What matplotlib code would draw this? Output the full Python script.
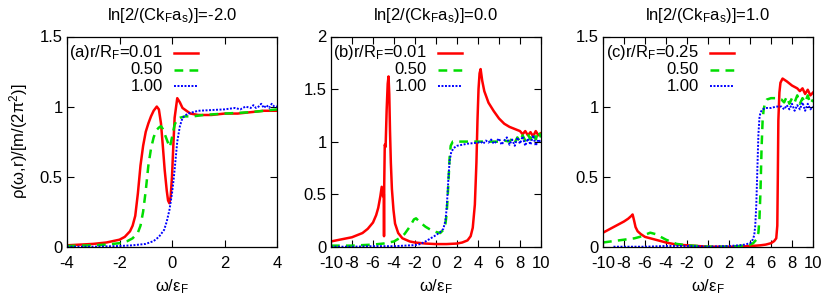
import matplotlib
matplotlib.use("Agg")
import matplotlib.pyplot as plt

plt.rcParams['font.family'] = ['Liberation Sans', 'DejaVu Sans']
plt.rcParams['mathtext.fontset'] = 'custom'
plt.rcParams['mathtext.rm'] = 'Liberation Sans'
plt.rcParams['mathtext.it'] = 'Liberation Sans:italic'
plt.rcParams['axes.unicode_minus'] = False

# ---- panel (a): ln[2/(Ck_F a_s)] = -2.0 ----
a_red_x = [-4, -3.5, -3, -2.5, -2, -1.8, -1.6, -1.5, -1.4, -1.3, -1.2, -1.1, -1.0, -0.9, -0.8,
           -0.7, -0.58, -0.5, -0.42, -0.35, -0.28, -0.2, -0.15, -0.1, -0.05, 0.0, 0.05, 0.1, 0.2,
           0.3, 0.4, 0.55, 0.7, 1.0, 1.5, 2, 2.5, 3, 3.5, 4]
a_red_y = [0.01, 0.015, 0.02, 0.03, 0.05, 0.07, 0.11, 0.15, 0.22, 0.38, 0.58, 0.72, 0.82, 0.88, 0.93,
           0.97, 1.0, 0.98, 0.88, 0.72, 0.55, 0.4, 0.33, 0.31, 0.36, 0.5, 0.72, 0.92, 1.06,
           1.03, 0.99, 0.97, 0.95, 0.94, 0.94, 0.95, 0.95, 0.96, 0.97, 0.97]
a_green_x = [-4, -3, -2.5, -2, -1.7, -1.5, -1.3, -1.2, -1.1, -1.0, -0.9, -0.8, -0.7, -0.6, -0.5,
             -0.42, -0.35, -0.25, -0.15, -0.08, 0.0, 0.1, 0.2, 0.3, 0.5, 0.8, 1.2, 2, 3, 4]
a_green_y = [0.005, 0.01, 0.015, 0.025, 0.04, 0.06, 0.1, 0.15, 0.25, 0.4, 0.58, 0.7, 0.78, 0.83, 0.85,
             0.86, 0.84, 0.79, 0.74, 0.71, 0.78, 0.87, 0.91, 0.92, 0.93, 0.93, 0.94, 0.95, 0.96, 0.98]
a_blue_x = [-4, -3, -2, -1.5, -1, -0.7, -0.5, -0.3, -0.2, -0.1, 0.0, 0.05, 0.1, 0.15, 0.2, 0.3,
            0.4, 0.6, 0.8, 1.0, 1.5, 2.0, 2.4, 2.6, 2.8, 3.0, 3.1, 3.2, 3.3, 3.4, 3.5, 3.6, 3.7,
            3.8, 3.9, 4.0]
a_blue_y = [0.0, 0.0, 0.005, 0.01, 0.02, 0.04, 0.07, 0.12, 0.18, 0.26, 0.38, 0.46, 0.55, 0.65, 0.75, 0.86,
            0.92, 0.95, 0.96, 0.97, 0.975, 0.98, 0.99, 0.98, 1.0, 0.99, 1.01, 0.99, 1.0, 1.02, 0.99, 1.01, 0.99,
            1.02, 1.0, 1.0]

# ---- panel (b): ln[2/(Ck_F a_s)] = 0.0 ----
b_red_x = [-10, -9, -8, -7, -6.5, -6, -5.7, -5.5, -5.3, -5.17, -5.05, -4.97, -4.95, -4.93, -4.88,
           -4.8, -4.7, -4.6, -4.52, -4.45, -4.38, -4.3, -4.2, -4.05, -3.9, -3.6, -3.2, -2.5, -2, -1,
           0, 1, 2, 2.5, 3, 3.3, 3.5, 3.7, 3.85, 3.95, 4.05, 4.15, 4.25, 4.4, 4.6, 5, 5.5, 6, 6.5,
           7, 7.5, 8, 8.25, 8.5, 8.75, 9, 9.25, 9.5, 9.75, 10]
b_red_y = [0.05, 0.07, 0.09, 0.13, 0.17, 0.23, 0.3, 0.37, 0.48, 0.57, 0.48, 0.5, 0.1, 0.6, 0.97,
           0.95, 1.3, 1.55, 1.62, 1.45, 1.1, 0.8, 0.55, 0.35, 0.22, 0.13, 0.08, 0.05, 0.04, 0.03,
           0.025, 0.025, 0.03, 0.04, 0.06, 0.1, 0.18, 0.4, 0.8, 1.2, 1.5, 1.65, 1.69, 1.58, 1.48, 1.37, 1.29, 1.22, 1.17,
           1.14, 1.12, 1.1, 1.07, 1.1, 1.06, 1.09, 1.05, 1.1, 1.06, 1.08]
b_green_x = [-10, -8, -6, -5, -4, -3.5, -3, -2.5, -2.1, -1.9, -1.5, -1, -0.5, 0, 0.4, 0.7, 0.9, 1.0,
             1.1, 1.2, 1.3, 1.4, 1.6, 2, 3, 4, 5, 6, 6.5, 7, 7.25, 7.5, 7.75, 8, 8.25, 8.5, 8.75,
             9, 9.25, 9.5, 9.75, 10]
b_green_y = [0.01, 0.01, 0.02, 0.03, 0.05, 0.08, 0.12, 0.19, 0.26, 0.27, 0.23, 0.19, 0.16, 0.14, 0.13, 0.16, 0.22, 0.3,
             0.45, 0.65, 0.85, 0.96, 1.0, 1.0, 1.0, 1.0, 1.0, 1.0, 1.01, 1.0, 1.03, 0.99, 1.04, 1.0, 1.06, 1.01, 1.07,
             1.02, 1.08, 1.02, 1.1, 1.04]
b_blue_x = [-10, -8, -6, -4, -3, -2, -1.5, -1, -0.5, 0, 0.4, 0.7, 0.9, 1.0, 1.1, 1.2, 1.3, 1.45,
            1.7, 2, 2.5, 3, 3.5, 4, 4.25, 4.5, 4.75, 5, 5.25, 5.5, 5.75, 6, 6.25, 6.5, 6.75, 7, 7.25,
            7.5, 7.75, 8, 8.25, 8.5, 8.75, 9, 9.25, 9.5, 9.75, 10]
b_blue_y = [0.0, 0.0, 0.005, 0.005, 0.01, 0.015, 0.025, 0.05, 0.08, 0.11, 0.14, 0.17, 0.25, 0.35, 0.5, 0.68, 0.82, 0.9,
            0.94, 0.96, 0.97, 0.98, 0.985, 0.99, 1.0, 0.98, 1.01, 0.99, 1.02, 0.98, 1.0, 1.03, 0.97, 1.01, 1.04, 0.97,
            1.02, 0.96, 1.04, 0.98, 1.05, 0.96, 1.03, 0.97, 1.06, 0.96, 1.02, 0.99]

# ---- panel (c): ln[2/(Ck_F a_s)] = 1.0 ----
c_red_x = [-10, -9.5, -9, -8.5, -8, -7.6, -7.3, -7.18, -7.05, -6.9, -6.7, -6.4, -6, -5.5, -5, -4.5,
           -4, -3, -2, -1, 0, 1, 2, 3, 4, 4.5, 5, 5.5, 6, 6.3, 6.5, 6.6, 6.65, 6.7, 6.8, 6.9, 7.1,
           7.5, 8, 8.5, 8.75, 9, 9.25, 9.5, 9.75, 10]
c_red_y = [0.1, 0.12, 0.14, 0.16, 0.18, 0.2, 0.22, 0.23, 0.19, 0.14, 0.11, 0.09, 0.07, 0.06, 0.05, 0.04,
           0.03, 0.015, 0.01, 0.005, 0.0, 0.0, 0.0, 0.0, 0.005, 0.007, 0.01, 0.015, 0.025, 0.04, 0.06, 0.15, 0.5,
           0.9, 1.1, 1.17, 1.2, 1.18, 1.15, 1.13, 1.11, 1.13, 1.09, 1.12, 1.08, 1.1]
c_green_x = [-10, -9, -8, -7, -6.5, -6, -5.5, -5, -4.5, -4, -3.5, -3, -2, -1, 0, 1, 2, 3, 3.5, 4,
             4.3, 4.6, 4.8, 4.9, 5.0, 5.1, 5.2, 5.3, 5.45, 5.6, 6.0, 6.5, 7, 7.25, 7.5, 7.75, 8,
             8.25, 8.5, 8.75, 9, 9.25, 9.5, 9.75, 10]
c_green_y = [0.03, 0.04, 0.05, 0.06, 0.07, 0.085, 0.1, 0.09, 0.07, 0.05, 0.035, 0.02, 0.01, 0.005, 0.0, 0.0, 0.0,
             0.005, 0.01, 0.015, 0.025, 0.05, 0.1, 0.2, 0.4, 0.7, 0.9, 0.98, 1.03, 1.05, 1.06, 1.06, 1.05, 1.03,
             1.07, 1.02, 1.06, 1.03, 1.08, 1.02, 1.06, 1.03, 1.08, 1.02, 1.05]
c_blue_x = [-9, -8, -6, -4, -2, 0, 2, 3, 3.5, 4, 4.2, 4.4, 4.5, 4.6, 4.7, 4.8, 4.9, 5.0, 5.2,
            5.5, 6, 6.5, 7, 7.25, 7.5, 7.75, 8, 8.25, 8.5, 8.75, 9, 9.25, 9.5, 9.75, 10]
c_blue_y = [0.0, 0.0, 0.0, 0.005, 0.005, 0.0, 0.005, 0.01, 0.015, 0.025, 0.04, 0.08, 0.15, 0.3, 0.55, 0.8,
            0.92, 0.96, 0.98, 0.99, 0.99, 1.0, 1.0, 0.98, 1.01, 0.98, 1.02, 0.97, 1.01, 0.98, 1.03, 0.97, 1.02,
            0.98, 1.0]

titles = ['-2.0', '0.0', '1.0']
panel_tags = ['(a)', '(b)', '(c)']
first_r = ['0.01', '0.01', '0.25']
r_labels = ['0.50', '1.00']
xlims = [(-4, 4), (-10, 10), (-10, 10)]
ylims = [(0, 1.5), (0, 2), (0, 1.5)]
xticks = [[-4, -2, 0, 2, 4], list(range(-10, 11, 2)), list(range(-10, 11, 2))]
yticks = [[0, 0.5, 1, 1.5], [0, 0.5, 1, 1.5, 2], [0, 0.5, 1, 1.5]]

data = [
    [(a_red_x, a_red_y), (a_green_x, a_green_y), (a_blue_x, a_blue_y)],
    [(b_red_x, b_red_y), (b_green_x, b_green_y), (b_blue_x, b_blue_y)],
    [(c_red_x, c_red_y), (c_green_x, c_green_y), (c_blue_x, c_blue_y)],
]

colors = ['#ff0000', '#00dd00', '#0000ff']
styles = [dict(ls='-', lw=1.8), dict(ls=(0, (3.5, 2.5)), lw=1.8), dict(ls=(0, (1, 0.8)), lw=1.4)]

W, H = 830, 308
fig = plt.figure(figsize=(W / 100, H / 100), dpi=100)
lefts = [67, 331, 603]
fs = 12

for i in range(3):
    ax = fig.add_axes([lefts[i] / W, (H - 246.7) / H, 210 / W, 210.2 / H])
    for (x, y), c, st in zip(data[i], colors, styles):
        ax.plot(x, y, color=c, **st)
    ax.set_xlim(*xlims[i])
    ax.set_ylim(*ylims[i])
    ax.set_xticks(xticks[i], [f'{t:g}' for t in xticks[i]])
    ax.set_yticks(yticks[i], [f'{t:g}' for t in yticks[i]])
    ax.tick_params(direction='in', top=True, right=True, length=5, width=0.8,
                   labelsize=fs)
    ax.tick_params(axis='x', pad=7)
    ax.tick_params(axis='y', pad=3)
    for s in ax.spines.values():
        s.set_linewidth(0.9)
    ax.set_xlabel(r'ω/ε$_\mathrm{F}$', fontsize=fs, labelpad=4)
    if i == 0:
        ax.set_ylabel(r'ρ(ω,r)/[m/(2π$^\mathrm{2}$)]', fontsize=fs, labelpad=7)
    ax.text(0.5, 1.1, r'ln[2/(Ck$_\mathrm{F}$a$_\mathrm{s}$)]=' + titles[i],
            transform=ax.transAxes, ha='center', va='center', fontsize=fs)

    # gnuplot style key: text on the left, sample on the right
    labels = [panel_tags[i] + r'r/R$_\mathrm{F}$=' + first_r[i]] + r_labels
    rows = [0.923, 0.843, 0.763]
    for lab, yy, c, st in zip(labels, rows, colors, styles):
        ax.text(0.455, yy, lab, transform=ax.transAxes, ha='right', va='center', fontsize=fs)
        ax.plot([0.51, 0.625], [yy, yy], transform=ax.transAxes, color=c, **st)

fig.savefig('out.png', dpi=100)
